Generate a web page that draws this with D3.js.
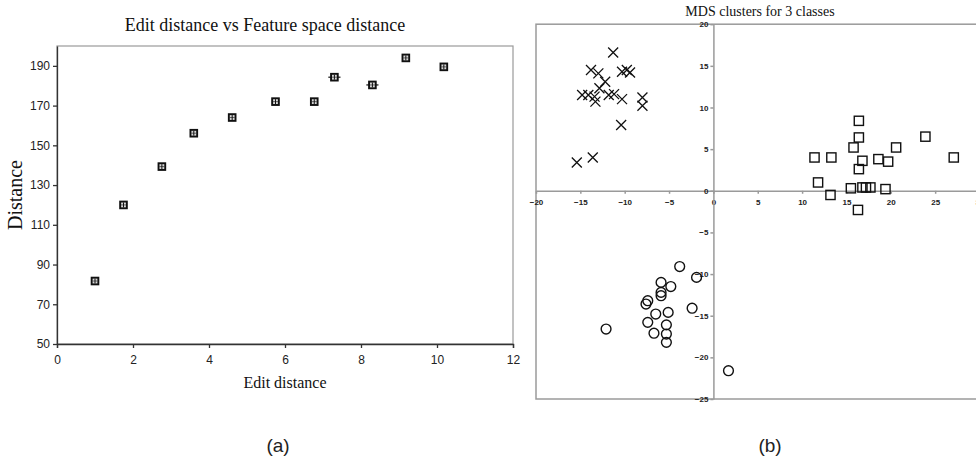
<!DOCTYPE html>
<html>
<head>
<meta charset="utf-8">
<script src="https://cdn.jsdelivr.net/npm/d3@7"></script>
<style>
    body { margin: 0; background: #fff; }
    svg { display: block; }
    .serif { font-family: "Liberation Serif", "Times New Roman", serif; fill: #111; }
    .ax-a text { font-family: "Liberation Sans", Arial, sans-serif; font-size: 12px; fill: #222; }
    .ax-b text { font-family: "Liberation Sans", Arial, sans-serif; font-size: 8px; font-weight: bold; fill: #222; }
    .panel-lbl { font-family: "Liberation Sans", Arial, sans-serif; font-size: 19px; fill: #222; }
</style>
</head>
<body>
<div id="chart"></div>
<script>
/* (a) edit distance vs feature space distance */
var editDist  = [1.0, 1.75, 2.76, 3.6, 4.61, 5.75, 6.77, 7.3, 8.3, 9.18, 10.18];
var featDist  = [81.7, 120, 139.3, 156.1, 164, 172, 172, 184.3, 180.4, 194, 189.5];
var editErr   = [0, 0, 0, 0, 0, 0, 0, 0.16, 0.16, 0, 0];
var aTicksX   = [0, 2, 4, 6, 8, 10, 12];
var aTicksY   = [50, 70, 90, 110, 130, 150, 170, 190];

/* (b) MDS clusters */
var crossX  = [-11.3, -13.8, -12.97, -12.2, -12.85, -10.3, -9.76, -9.4, -14.8, -14.1, -13.3, -13.4, -11.8, -11.2, -10.3, -8.0, -8.0, -10.4, -15.4, -13.6];
var crossY  = [16.6, 14.5, 14.1, 13.1, 12.3, 14.3, 14.5, 14.2, 11.5, 11.5, 10.7, 11.3, 11.5, 11.6, 11.0, 11.2, 10.2, 7.9, 3.4, 4.0];
var squareX = [16.4, 16.4, 15.8, 20.6, 23.9, 27.1, 11.4, 13.3, 16.8, 18.6, 19.7, 16.4, 11.8, 13.2, 15.5, 16.8, 17.2, 17.7, 19.4, 16.3];
var squareY = [8.4, 6.4, 5.2, 5.2, 6.5, 4.0, 4.0, 4.0, 3.6, 3.8, 3.5, 2.6, 1.0, -0.5, 0.3, 0.4, 0.4, 0.4, 0.2, -2.3];
var circleX = [-3.8, -1.9, -5.9, -4.8, -5.9, -5.9, -7.4, -7.6, -6.5, -5.1, -2.4, -7.4, -5.3, -12.1, -6.7, -5.3, -5.3, 1.7];
var circleY = [-9.1, -10.4, -11.0, -11.5, -12.2, -12.6, -13.2, -13.6, -14.8, -14.6, -14.1, -15.8, -16.1, -16.6, -17.1, -17.2, -18.2, -21.6];
var bTicksX = [-20, -15, -10, -5, 0, 5, 10, 15, 20, 25, 30];
var bTicksY = [-25, -20, -15, -10, -5, 0, 5, 10, 15, 20];

var W = 976, H = 460;

var svg = d3.select("#chart").append("svg")
    .attr("width", W).attr("height", H);

/* ---------- panel (a) ---------- */
var ax = d3.scaleLinear().domain([0, 12]).range([57, 513]);
var ay = d3.scaleLinear().domain([50, 200]).range([344, 46]);

var ga = svg.append("g");

// frame: light top/right, darker axes
ga.append("rect")
    .attr("x", ax(0)).attr("y", ay(200))
    .attr("width", ax(12) - ax(0)).attr("height", ay(50) - ay(200))
    .attr("fill", "none").attr("stroke", "#9a9a9a").attr("stroke-width", 1.2);

ga.append("g")
    .attr("class", "ax-a")
    .attr("transform", "translate(0," + ay(50) + ")")
    .call(d3.axisBottom(ax).tickValues(aTicksX).tickSize(4).tickPadding(7).tickFormat(d3.format("d")))
    .call(function (g) { g.selectAll("path, line").attr("stroke", "#333").attr("stroke-width", 1.3); });

ga.append("g")
    .attr("class", "ax-a")
    .attr("transform", "translate(" + ax(0) + ",0)")
    .call(d3.axisLeft(ay).tickValues(aTicksY).tickSize(4).tickPadding(3).tickSizeOuter(0))
    .call(function (g) { g.selectAll("path, line").attr("stroke", "#333").attr("stroke-width", 1.3); });

// markers: filled square with small "grid" inside, optional whiskers
var pts = editDist.map(function (d, i) { return { x: d, y: featDist[i], e: editErr[i] }; });
var mk = ga.selectAll(".mk").data(pts).enter().append("g")
    .attr("class", "mk")
    .attr("transform", function (d) { return "translate(" + ax(d.x) + "," + ay(d.y) + ")"; });

mk.filter(function (d) { return d.e > 0; }).append("line")
    .attr("x1", function (d) { return ax(-d.e) - ax(0); })
    .attr("x2", function (d) { return ax(d.e) - ax(0); })
    .attr("stroke", "#111").attr("stroke-width", 1.2);
mk.append("rect")
    .attr("x", -4.3).attr("y", -4.3).attr("width", 8.6).attr("height", 8.6)
    .attr("fill", "#111");
mk.append("rect")
    .attr("x", -2.4).attr("y", -2.4).attr("width", 4.8).attr("height", 4.8)
    .attr("fill", "#d8d8d8");
mk.append("line")
    .attr("y1", -2.5).attr("y2", 2.5)
    .attr("stroke", "#111").attr("stroke-width", 1);
mk.append("line")
    .attr("x1", -2.5).attr("x2", 2.5)
    .attr("stroke", "#111").attr("stroke-width", 0.6);

ga.append("text").attr("class", "serif")
    .attr("x", 265).attr("y", 31)
    .attr("text-anchor", "middle").attr("font-size", 18)
    .text("Edit distance vs Feature space distance");

ga.append("text").attr("class", "serif")
    .attr("x", 285).attr("y", 388)
    .attr("text-anchor", "middle").attr("font-size", 16)
    .text("Edit distance");

ga.append("text").attr("class", "serif")
    .attr("transform", "translate(22,195) rotate(-90)")
    .attr("text-anchor", "middle").attr("font-size", 20)
    .text("Distance");

svg.append("text").attr("class", "panel-lbl")
    .attr("x", 278).attr("y", 452)
    .attr("text-anchor", "middle")
    .text("(a)");

/* ---------- panel (b) ---------- */
var bx = d3.scaleLinear().domain([-20, 30]).range([536, 979.5]);
var by = d3.scaleLinear().domain([-25, 20]).range([399, 24.2]);

var gb = svg.append("g");

gb.append("rect")
    .attr("x", bx(-20)).attr("y", by(20))
    .attr("width", bx(30) - bx(-20)).attr("height", by(-25) - by(20))
    .attr("fill", "none").attr("stroke", "#9a9a9a").attr("stroke-width", 1.5);

gb.append("g")
    .attr("class", "ax-b")
    .attr("transform", "translate(0," + by(0) + ")")
    .call(d3.axisBottom(bx).tickValues(bTicksX).tickSize(3).tickPadding(6).tickSizeOuter(0))
    .call(function (g) { g.selectAll("path, line").attr("stroke", "#9a9a9a").attr("stroke-width", 1.5); });

gb.append("g")
    .attr("class", "ax-b")
    .attr("transform", "translate(" + bx(0) + ",0)")
    .call(d3.axisLeft(by).tickValues(bTicksY).tickSize(3).tickPadding(2).tickSizeOuter(0))
    .call(function (g) { g.selectAll("path, line").attr("stroke", "#9a9a9a").attr("stroke-width", 1.5); });

var crosses = crossX.map(function (d, i) { return [d, crossY[i]]; });
var squares = squareX.map(function (d, i) { return [d, squareY[i]]; });
var circles = circleX.map(function (d, i) { return [d, circleY[i]]; });

var S = 5; // half marker size
gb.selectAll(".cx").data(crosses).enter().append("path")
    .attr("class", "cx")
    .attr("d", function (d) {
        var x = bx(d[0]), y = by(d[1]);
        return "M" + (x - S) + "," + (y - S) + "L" + (x + S) + "," + (y + S) +
               "M" + (x - S) + "," + (y + S) + "L" + (x + S) + "," + (y - S);
    })
    .attr("stroke", "#111").attr("stroke-width", 1.3).attr("fill", "none");

gb.selectAll(".sq").data(squares).enter().append("rect")
    .attr("class", "sq")
    .attr("x", function (d) { return bx(d[0]) - 4.6; })
    .attr("y", function (d) { return by(d[1]) - 4.6; })
    .attr("width", 9.2).attr("height", 9.2)
    .attr("fill", "none").attr("stroke", "#111").attr("stroke-width", 1.4);

gb.selectAll(".ci").data(circles).enter().append("circle")
    .attr("class", "ci")
    .attr("cx", function (d) { return bx(d[0]); })
    .attr("cy", function (d) { return by(d[1]); })
    .attr("r", 4.9)
    .attr("fill", "none").attr("stroke", "#111").attr("stroke-width", 1.4);

gb.append("text").attr("class", "serif")
    .attr("x", 760).attr("y", 16)
    .attr("text-anchor", "middle").attr("font-size", 14)
    .text("MDS clusters for 3 classes");

svg.append("text").attr("class", "panel-lbl")
    .attr("x", 770).attr("y", 452)
    .attr("text-anchor", "middle")
    .text("(b)");
</script>
</body>
</html>
